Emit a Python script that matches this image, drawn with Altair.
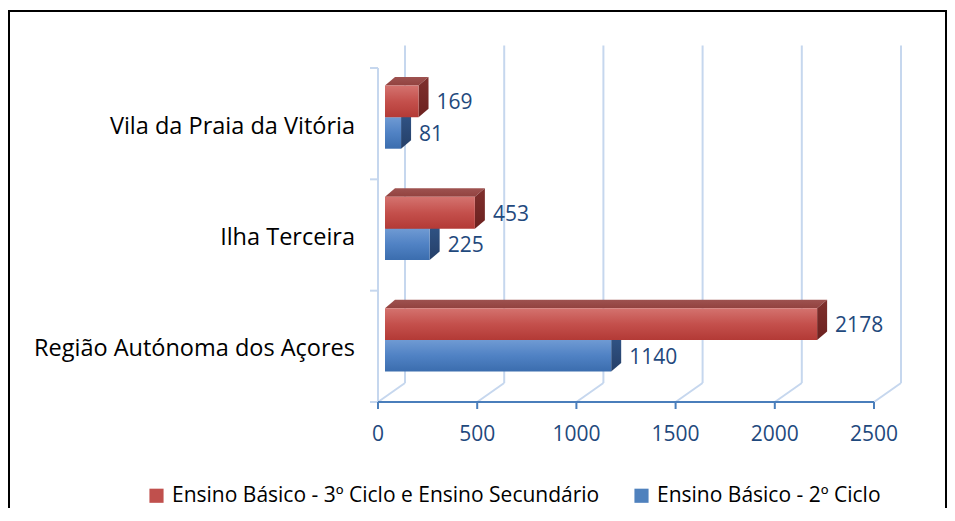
import altair as alt
import pandas as pd

# ---------------- data ----------------
categories = ["Região Autónoma dos Açores", "Ilha Terceira", "Vila da Praia da Vitória"]
series = ["Ensino Básico - 3º Ciclo e Ensino Secundário", "Ensino Básico - 2º Ciclo"]
values_3ciclo = [2178, 453, 169]
values_2ciclo = [1140, 225, 81]
x_ticks = [0, 500, 1000, 1500, 2000, 2500]

# ---------------- geometry / style constants ----------------
W, H = 496, 334
NCAT = len(categories)
XMAX = x_ticks[-1]
ux = XMAX / W        # data units per pixel (x)
uy = NCAT / H        # data units per pixel (y)

BAR_SHIFT = 7        # px, bar front face start right of zero
BAR_DX, BAR_DY = 10, 8.5
WALL_DX, WALL_DY, GRID_TOP = 27, 19, 22.5
BLUE_LO, MID, RED_HI = 0.275, 0.557, 0.843

FONT = "Open Sans"
LABEL_BLUE = "#1F497D"
GRID_C = "#C6D7EE"
AXIS_C = "#4A7EBB"

xs = alt.Scale(domain=[0, XMAX], nice=False, zero=False)
ys = alt.Scale(domain=[0, NCAT], nice=False, zero=False)

# ---------------- derived tables ----------------
front, tops, sides, labels = [], [], [], []
for k, cat in enumerate(categories):
    for s, (vals, lo, hi) in enumerate([(values_2ciclo, BLUE_LO, MID), (values_3ciclo, MID, RED_HI)]):
        v = vals[k]
        x0 = BAR_SHIFT * ux
        x1 = v + BAR_SHIFT * ux
        ylo, yhi = k + lo, k + hi
        bid = f"{s}-{k}"
        front.append(dict(bid=bid, s=s, x0=x0, x1=x1, ylo=ylo, yhi=yhi))
        ddx, ddy = BAR_DX * ux, BAR_DY * uy
        for px, py, py2 in [(x0, yhi, yhi), (x0 + ddx, yhi + ddy, yhi),
                            (x1, yhi + ddy, yhi), (x1 + ddx, yhi + ddy, yhi + ddy)]:
            tops.append(dict(bid=bid, s=s, x=px, y=py, y2=py2))
        for px, py, py2 in [(x1, yhi, ylo), (x1 + ddx, yhi + ddy, ylo + ddy)]:
            sides.append(dict(bid=bid, s=s, x=px, y=py, y2=py2))
        labels.append(dict(s=s, x=x1, y=(ylo + yhi) / 2, t=str(v)))

front = pd.DataFrame(front)
tops = pd.DataFrame(tops)
sides = pd.DataFrame(sides)
labels = pd.DataFrame(labels)

grid = pd.DataFrame({"v": x_ticks})
grid["xb"] = grid["v"] + WALL_DX * ux
grid["yb"] = WALL_DY * uy
grid["yt"] = NCAT + GRID_TOP * uy
grid["y0"] = 0.0
grid["t"] = grid["v"].astype(str)

cats = pd.DataFrame({"cat": categories, "y": [k + 0.5 for k in range(NCAT)]})
bounds = pd.DataFrame({"y": list(range(NCAT + 1))})


def grad(c1, c2, c3=None):
    stops = [alt.GradientStop(color=c1, offset=0)]
    if c3:
        stops.append(alt.GradientStop(color=c2, offset=0.5))
        stops.append(alt.GradientStop(color=c3, offset=1))
    else:
        stops.append(alt.GradientStop(color=c2, offset=1))
    return alt.Gradient(gradient="linear", stops=stops, x1=0, x2=0, y1=0, y2=1)


RED_FRONT = grad("#D4736F", "#C4504C", "#B33A36")
BLUE_FRONT = grad("#6F9AD3", "#5082C4", "#3B6DAE")
RED_TOP = grad("#9E5250", "#92423F")
BLUE_TOP = grad("#557AAA", "#46699A")
RED_SIDE = grad("#7F302D", "#6C211F")
BLUE_SIDE = grad("#32578A", "#253F68")

# ---------------- layers ----------------
one = pd.DataFrame({"a": [0]})
border = alt.Chart(one).mark_rect(filled=False, stroke="black", strokeWidth=2).encode(
    x=alt.value(-369), x2=alt.value(568), y=alt.value(-57), y2=alt.value(600))

back_grid = alt.Chart(grid).mark_rule(color=GRID_C, strokeWidth=2).encode(
    x=alt.X("xb:Q", scale=xs, axis=None), y=alt.Y("yb:Q", scale=ys, axis=None), y2="yt:Q")
floor = alt.Chart(grid).mark_rule(color=GRID_C, strokeWidth=2).encode(
    x=alt.X("v:Q", scale=xs, axis=None), x2="xb:Q",
    y=alt.Y("y0:Q", scale=ys, axis=None), y2="yb:Q")
left_wall = alt.Chart(one).mark_rule(color=GRID_C, strokeWidth=2).encode(
    x=alt.value(0), y=alt.value(0), y2=alt.value(H))
left_ticks = alt.Chart(bounds).mark_rule(color=GRID_C, strokeWidth=2).encode(
    x=alt.value(-8), x2=alt.value(0), y=alt.Y("y:Q", scale=ys, axis=None))

# x axis drawn through the x scale
axis_domain = alt.Chart(pd.DataFrame({"a": [x_ticks[0]], "b": [x_ticks[-1]]})).mark_rule(
    color=AXIS_C, strokeWidth=2).encode(
    x=alt.X("a:Q", scale=xs, axis=None), x2="b:Q", y=alt.value(H))
axis_ticks = alt.Chart(grid).mark_rule(color=AXIS_C, strokeWidth=2).encode(
    x=alt.X("v:Q", scale=xs, axis=None), y=alt.value(H), y2=alt.value(H + 7))
axis_labels = alt.Chart(grid).mark_text(align="center", baseline="alphabetic", font=FONT,
                                        fontSize=21, color=LABEL_BLUE).encode(
    x=alt.X("v:Q", scale=xs, axis=None), y=alt.value(H + 39), text="t:N")


def faces(s, front_fill, top_fill, side_fill):
    f = alt.Chart(front[front.s == s]).mark_rect(fill=front_fill).encode(
        x=alt.X("x0:Q", scale=xs, axis=None), x2="x1:Q",
        y=alt.Y("ylo:Q", scale=ys, axis=None), y2="yhi:Q")
    t = alt.Chart(tops[tops.s == s]).mark_area(fill=top_fill).encode(
        x=alt.X("x:Q", scale=xs, axis=None), y=alt.Y("y:Q", scale=ys, axis=None),
        y2="y2:Q", detail="bid:N")
    sd = alt.Chart(sides[sides.s == s]).mark_area(fill=side_fill).encode(
        x=alt.X("x:Q", scale=xs, axis=None), y=alt.Y("y:Q", scale=ys, axis=None),
        y2="y2:Q", detail="bid:N")
    return [t, sd, f]


blue_layers = faces(0, BLUE_FRONT, BLUE_TOP, BLUE_SIDE)
red_layers = faces(1, RED_FRONT, RED_TOP, RED_SIDE)

val_text = alt.Chart(labels).mark_text(align="left", baseline="middle", dx=18, dy=2,
                                       font=FONT, fontSize=21, color=LABEL_BLUE).encode(
    x=alt.X("x:Q", scale=xs, axis=None), y=alt.Y("y:Q", scale=ys, axis=None), text="t:N")

cat_text = alt.Chart(cats).mark_text(align="right", baseline="middle", dy=3,
                                     font=FONT, fontSize=23.5, color="black").encode(
    x=alt.value(-23), y=alt.Y("y:Q", scale=ys, axis=None), text="cat:N")

leg_df = pd.DataFrame({"serie": series})
legend_layer = alt.Chart(leg_df).mark_square(opacity=0).encode(
    x=alt.value(0), y=alt.value(0),
    color=alt.Color("serie:N", scale=alt.Scale(domain=series, range=["#C0504D", "#4F81BD"]),
                    legend=alt.Legend(orient="none", legendX=-232, legendY=417,
                                      direction="horizontal", columns=2, title=None,
                                      symbolType="square", symbolSize=200, symbolOpacity=1,
                                      symbolStrokeWidth=0, labelFont=FONT, labelFontSize=21,
                                      labelColor="black", labelOffset=5, columnPadding=31,
                                      labelLimit=800, padding=0)))

chart = alt.layer(border, back_grid, floor, left_wall, left_ticks,
                  axis_domain, axis_ticks, axis_labels,
                  *blue_layers, *red_layers, val_text, cat_text, legend_layer).properties(
    width=W, height=H,
    autosize=alt.AutoSizeParams(type="none"),
    padding={"left": 370, "top": 60, "right": 73, "bottom": 106},
    background="white",
).configure_view(strokeWidth=0)

chart.save("out.html", embed_options={"renderer": "svg", "actions": False})
